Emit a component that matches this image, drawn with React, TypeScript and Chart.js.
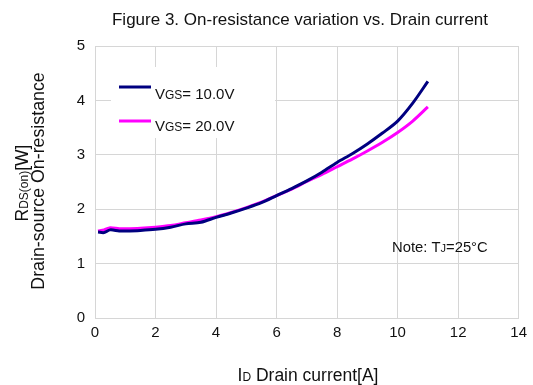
import React, { useEffect, useRef } from "react";
import { Chart, registerables } from "chart.js";

Chart.register(...registerables);

const currents = [0.1, 0.3, 0.5, 0.8, 1, 1.5, 2, 2.5, 3, 3.5, 4, 4.5, 5, 5.5, 6, 6.5, 7, 7.5, 8, 8.5, 9, 9.5, 10, 10.5, 11];
const rds10 = [1.58, 1.57, 1.62, 1.6, 1.6, 1.61, 1.63, 1.67, 1.73, 1.76, 1.85, 1.93, 2.02, 2.12, 2.25, 2.38, 2.52, 2.68, 2.86, 3.02, 3.2, 3.4, 3.62, 3.95, 4.35];
const rds20 = [1.6, 1.62, 1.66, 1.64, 1.64, 1.65, 1.67, 1.7, 1.75, 1.8, 1.86, 1.94, 2.03, 2.13, 2.25, 2.37, 2.51, 2.64, 2.78, 2.92, 3.07, 3.23, 3.41, 3.62, 3.88];
const seriesNames = ["10.0V", "20.0V"];
const seriesColors = ["#000080", "#ff00ff"];

const FONT = "'Liberation Sans', Arial, sans-serif";

type Run = { t: string; s: number };

function drawRuns(ctx: CanvasRenderingContext2D, runs: Run[], x: number, y: number, align: "left" | "center") {
  let total = 0;
  const widths = runs.map((r) => {
    ctx.font = `${r.s}px ${FONT}`;
    const w = ctx.measureText(r.t).width;
    total += w;
    return w;
  });
  let cx = align === "center" ? x - total / 2 : x;
  ctx.textAlign = "left";
  ctx.textBaseline = "alphabetic";
  runs.forEach((r, i) => {
    ctx.font = `${r.s}px ${FONT}`;
    ctx.fillText(r.t, cx, y);
    cx += widths[i];
  });
}

const textPlugin = {
  id: "customText",
  afterDraw(chart: any) {
    const ctx: CanvasRenderingContext2D = chart.ctx;
    ctx.save();
    ctx.fillStyle = "#111";
    // title
    drawRuns(ctx, [{ t: "Figure 3. On-resistance variation vs. Drain current", s: 17 }], 300, 25, "center");
    // x title
    drawRuns(ctx, [{ t: "I", s: 17.5 }, { t: "D", s: 12 }, { t: " Drain current[A]", s: 17.5 }], 308, 381, "center");
    // y title
    ctx.save();
    ctx.rotate(-Math.PI / 2);
    drawRuns(ctx, [{ t: "R", s: 17.5 }, { t: "DS(on)", s: 12 }, { t: "[W]", s: 17.5 }], -183, 27.5, "center");
    drawRuns(ctx, [{ t: "Drain-source On-resistance", s: 17.8 }], -181, 43.5, "center");
    ctx.restore();
    // note
    drawRuns(ctx, [{ t: "Note: T", s: 14.8 }, { t: "J", s: 11 }, { t: "=25°C", s: 14.8 }], 392, 252, "left");
    // legend
    ctx.fillStyle = "#ffffff";
    ctx.fillRect(111, 67, 164, 71);
    const rows = [87, 121];
    const bases = [99, 131];
    rows.forEach((ly, i) => {
      ctx.strokeStyle = seriesColors[i];
      ctx.lineWidth = 3;
      ctx.beginPath();
      ctx.moveTo(119, ly);
      ctx.lineTo(151, ly);
      ctx.stroke();
      ctx.fillStyle = "#111";
      drawRuns(ctx, [{ t: "V", s: 15 }, { t: "GS", s: 12 }, { t: "= " + seriesNames[i], s: 15 }], 155, bases[i], "left");
    });
    ctx.restore();
  },
};

export default function App() {
  const ref = useRef<HTMLCanvasElement | null>(null);
  useEffect(() => {
    document.body.style.margin = "0";
    const canvas = ref.current;
    if (!canvas) return;
    const grid = { color: "#d6d6d6", lineWidth: 1, drawTicks: false };
    const chart = new Chart(canvas, {
      type: "line",
      data: {
        datasets: [rds10, rds20].map((vals, i) => ({
          label: "VGS= " + seriesNames[i],
          data: currents.map((x, j) => ({ x, y: vals[j] })),
          borderColor: seriesColors[i],
          backgroundColor: seriesColors[i],
          borderWidth: 3,
          pointRadius: 0,
          tension: 0.3,
          fill: false,
        })),
      },
      options: {
        animation: false,
        responsive: false,
        maintainAspectRatio: false,
        layout: { padding: { top: 46, right: 10, left: 0, bottom: 0 } },
        plugins: { legend: { display: false }, title: { display: false }, tooltip: { enabled: false } },
        scales: {
          x: {
            type: "linear",
            min: 0,
            max: 14,
            ticks: { stepSize: 2, padding: 6, color: "#111", font: { size: 15, family: FONT } },
            grid,
            border: { color: "#d6d6d6" },
            afterFit: (s: any) => {
              s.height = 67;
            },
          },
          y: {
            min: 0,
            max: 5,
            ticks: { stepSize: 1, padding: 10, color: "#111", font: { size: 15, family: FONT } },
            grid,
            border: { color: "#d6d6d6" },
            afterFit: (s: any) => {
              s.width = 95;
            },
          },
        },
      } as any,
      plugins: [textPlugin],
    });
    return () => chart.destroy();
  }, []);
  return (
    <div style={{ width: 533, height: 385 }}>
      <canvas ref={ref} width={533} height={385} />
    </div>
  );
}
